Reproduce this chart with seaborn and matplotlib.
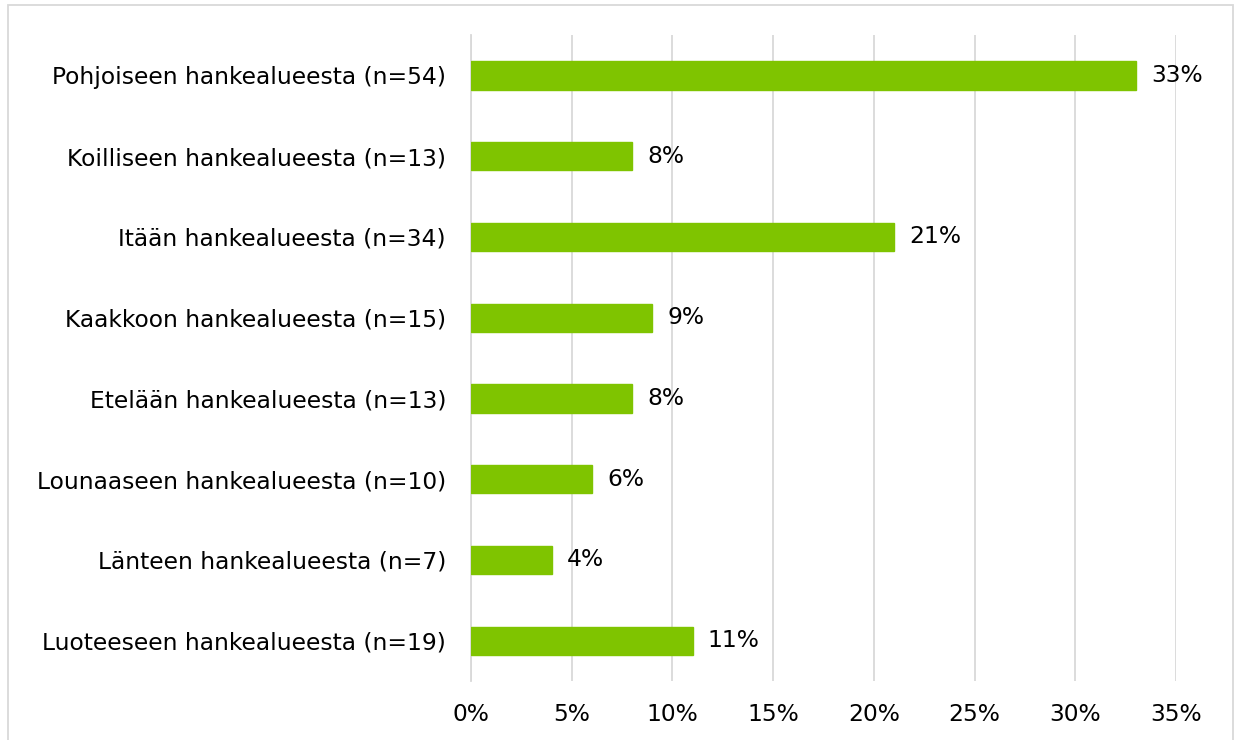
import numpy as np
import pandas as pd
import seaborn as sns
import matplotlib.pyplot as plt
from matplotlib.patches import Rectangle
from matplotlib.ticker import MultipleLocator, FuncFormatter

categories = [
    "Pohjoiseen hankealueesta (n=54)",
    "Koilliseen hankealueesta (n=13)",
    "Itään hankealueesta (n=34)",
    "Kaakkoon hankealueesta (n=15)",
    "Etelään hankealueesta (n=13)",
    "Lounaaseen hankealueesta (n=10)",
    "Länteen hankealueesta (n=7)",
    "Luoteeseen hankealueesta (n=19)",
]
shares = [33, 8, 21, 9, 8, 6, 4, 11]

df = pd.DataFrame({"suunta": categories, "osuus": shares})

sns.set_style("white")
plt.rcParams["font.family"] = ["DejaVu Sans"]

fig = plt.figure(figsize=(12.37, 7.40), dpi=100)
ax = fig.add_axes([0.3808, 0.0797, 0.5699, 0.873])

green = "#7fc400"
sns.barplot(data=df, x="osuus", y="suunta", color=green, width=0.35,
            saturation=1, edgecolor=green, ax=ax, zorder=3)

ax.set_xlim(0, 35)
ax.xaxis.set_major_locator(MultipleLocator(5))
ax.xaxis.set_major_formatter(FuncFormatter(lambda v, p: f"{v:.0f}%"))
ax.grid(axis="x", color="#d9d9d9", linewidth=1.3, zorder=0)
ax.set_xlabel("")
ax.set_ylabel("")
for s in ["top", "right", "bottom"]:
    ax.spines[s].set_visible(False)
ax.spines["left"].set_color("#d9d9d9")
ax.spines["left"].set_linewidth(1.3)
fs = 16.8
ax.tick_params(axis="both", length=0, labelsize=fs, colors="black")
ax.tick_params(axis="y", pad=18)
ax.tick_params(axis="x", pad=16)

for i, v in enumerate(shares):
    ax.text(v + 0.75, i, f"{v}%", va="center", ha="left", fontsize=fs,
            color="black")

fig.patches.append(Rectangle((8 / 1237, -0.05), 1225 / 1237, 1 - 5 / 740 + 0.05,
                             transform=fig.transFigure, fill=False,
                             edgecolor="#d9d9d9", linewidth=1.3))

fig.savefig("out.png", dpi=100)
